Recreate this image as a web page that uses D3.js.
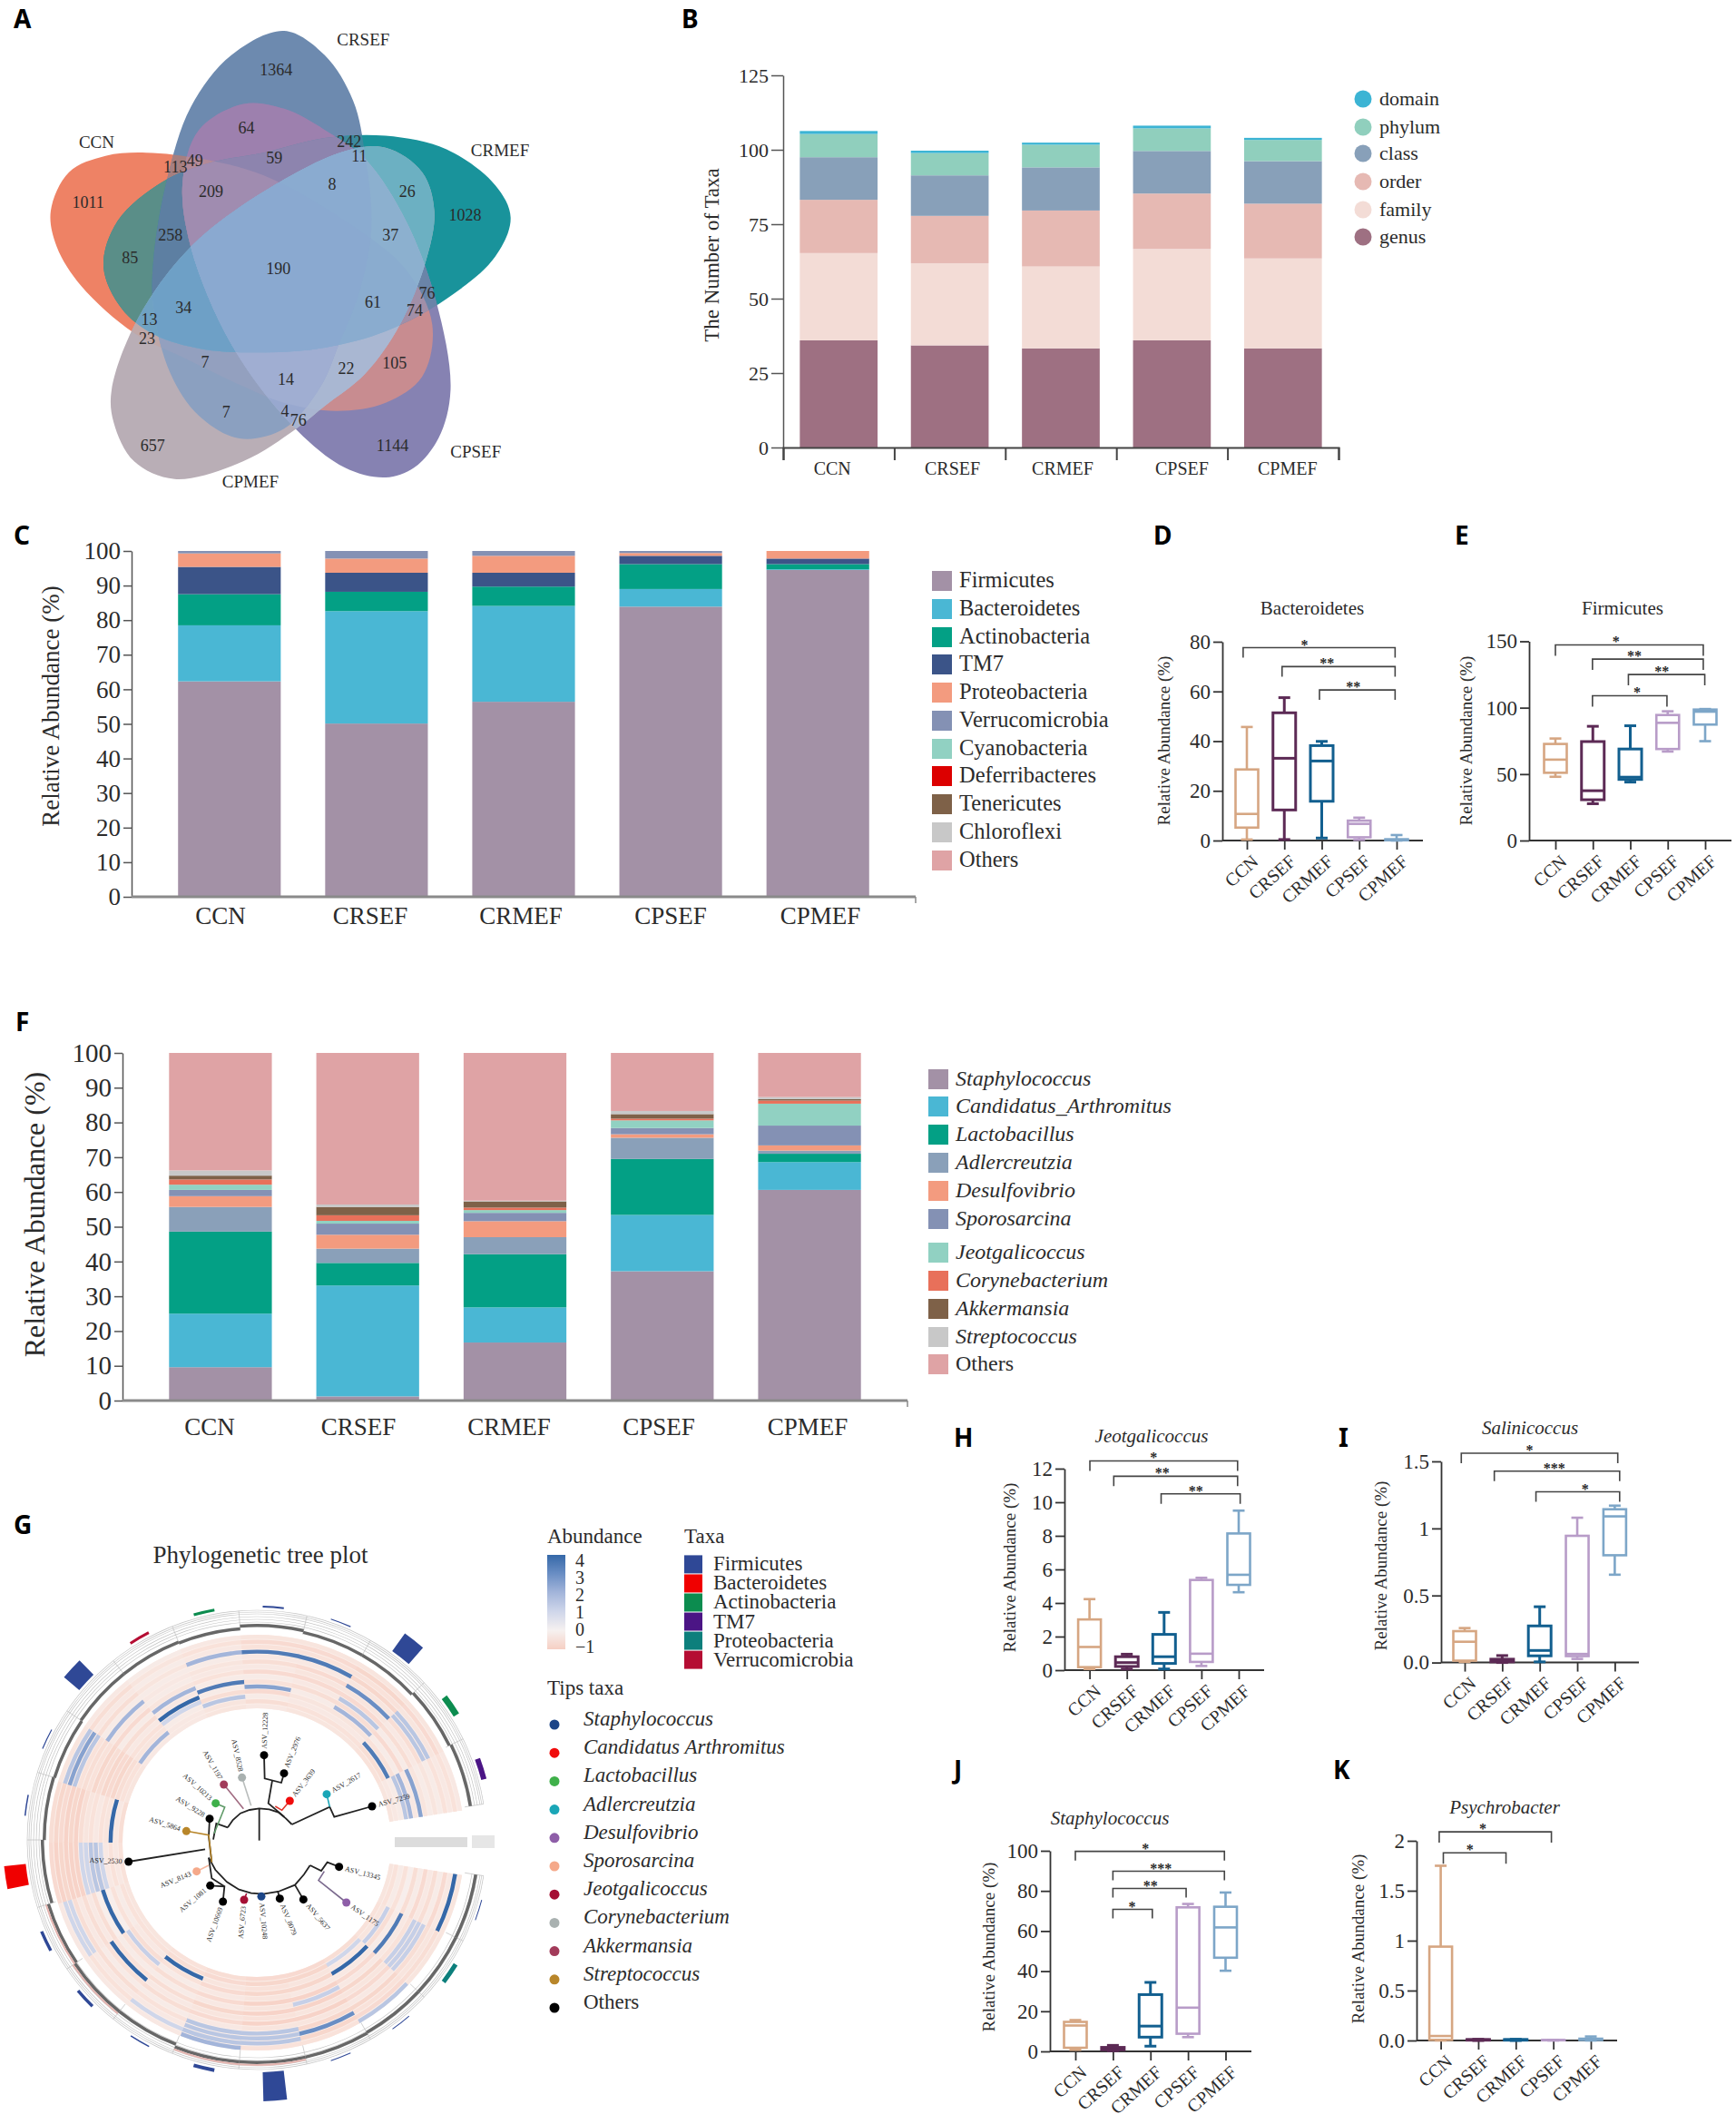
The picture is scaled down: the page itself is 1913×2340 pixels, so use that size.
<!DOCTYPE html>
<html>
<head>
<meta charset="utf-8">
<title>Figure</title>
<script src="https://cdn.jsdelivr.net/npm/d3@7"></script>
<style>
body { margin: 0; background: #fff; }
text { font-family: "Liberation Serif", serif; fill: #2b2b2b; }
.panel { font-family: "Noto Sans", sans-serif; font-weight: 700; font-size: 28px; fill: #000; }
</style>
</head>
<body>
<svg id="fig" width="1913" height="2340" xmlns="http://www.w3.org/2000/svg"></svg>
<script>
const groups = ["CCN", "CRSEF", "CRMEF", "CPSEF", "CPMEF"];

// A: venn
const vennNames = ["CCN", "CRSEF", "CRMEF", "CPSEF", "CPMEF"];
const vennKeys = ["N", "S", "M", "P", "Q"];
const vennOutlines = {
    N: [[125,650],[170,530],[260,480],[360,470],[500,490],[650,540],[850,680],[1000,830],[1065,1000],[1040,1160],[950,1240],[830,1265],[700,1240],[600,1190],[450,1100],[330,1025],[200,880],[140,760]],
    S: [[700,95],[800,170],[870,310],[900,480],[915,700],[885,900],[835,1060],[790,1190],[700,1320],[590,1350],[490,1280],[420,1150],[378,950],[378,800],[410,560],[470,330],[570,170]],
    M: [[255,820],[290,680],[400,560],[520,500],[650,470],[800,425],[950,418],[1100,460],[1220,570],[1258,670],[1220,790],[1100,920],[950,1020],[800,1070],[650,1085],[500,1075],[380,1030],[300,950]],
    P: [[950,1470],[850,1440],[720,1310],[570,1060],[470,760],[450,560],[490,400],[600,320],[700,335],[800,400],[900,490],[1000,680],[1075,930],[1110,1200],[1080,1350],[1020,1440]],
    Q: [[430,1475],[330,1420],[280,1300],[275,1200],[340,980],[470,760],[650,590],[850,465],[950,455],[1040,530],[1070,650],[1050,800],[985,1000],[900,1150],[800,1250],[730,1320],[600,1420]]
};
const vennColors = {
    N: "#ee8265", S: "#6d8aaf", M: "#19939b", P: "#8682b2", Q: "#b9aeb6",
    NS: "#a67f80", NM: "#5a8e88", NP: "#c88c90", NQ: "#c0a8a8", SM: "#3c8a9e",
    SP: "#9d80ae", SQ: "#8ba0c0", MP: "#6a84a8", MQ: "#6cb0c2", PQ: "#a9b5d0",
    NSM: "#5d7fa2", NSP: "#b38a98", NSQ: "#93a0bf", NMP: "#a18fa8", NMQ: "#6fa2c3",
    NPQ: "#a9b7d2", SMP: "#8d84ae", SMQ: "#7eaac8", SPQ: "#98a8cf", MPQ: "#8cb0cf",
    NSMP: "#a08cb0", NSMQ: "#6ea0c6", NSPQ: "#a0aed2", NMPQ: "#8aaccf", SMPQ: "#8aabd0",
    NSMPQ: "#8aa9d0"
};
const vennCounts = [
    [1011,217,622],[1364,680,216],[1028,1146,662],[1144,967,1373],[657,376,1373],
    [64,607,395],[242,860,435],[11,885,480],[49,480,495],[113,432,515],[59,676,487],
    [209,520,590],[8,818,566],[26,1003,590],[258,420,725],[37,962,725],[85,320,793],
    [190,686,828],[34,452,947],[61,919,930],[76,1052,902],[74,1022,957],[13,368,985],
    [23,362,1043],[7,505,1115],[105,972,1118],[22,853,1135],[14,704,1168],[7,557,1270],
    [4,702,1265],[76,735,1295]
];
const vennNamePos = [[238,440],[895,122],[1232,465],[1172,1393],[617,1485]];

// B: taxa counts
const taxaLevels = ["domain", "phylum", "class", "order", "family", "genus"];
const taxaColors = ["#3cb4d4", "#90cfbd", "#88a0b9", "#e6b9b3", "#f3dcd6", "#9e7082"];
const genusCount = [36, 34.3, 33.3, 36, 33.3];
const familyCount = [29.3, 27.6, 27.5, 30.7, 30.2];
const orderCount = [17.9, 15.9, 18.8, 18.6, 18.4];
const classCount = [14.3, 13.6, 14.5, 14.3, 14.3];
const phylumCount = [7.8, 7.5, 7.6, 7.6, 7.1];
const domainCount = [1, 0.8, 0.7, 0.9, 0.7];

// C: phylum composition
const phylumNames = ["Firmicutes", "Bacteroidetes", "Actinobacteria", "TM7", "Proteobacteria", "Verrucomicrobia", "Cyanobacteria", "Deferribacteres", "Tenericutes", "Chloroflexi", "Others"];
const phylumColors = ["#a391a6", "#4ab7d4", "#03a085", "#3b5488", "#f39b7f", "#8491b4", "#91d1c2", "#dc0000", "#7e6148", "#c8c8c8", "#dfa3a5"];
const phylumValues = [
    [62.3, 50.1, 56.4, 83.9, 94.5],
    [16.2, 32.5, 27.7, 5.1, 0.2],
    [9, 5.6, 5.6, 7.2, 1.5],
    [7.9, 5.5, 4, 2.4, 1.6],
    [3.9, 4.1, 4.9, 0.8, 2.2],
    [0.7, 2.2, 1.4, 0.6, 0],
    [0, 0, 0, 0, 0],
    [0, 0, 0, 0, 0],
    [0, 0, 0, 0, 0],
    [0, 0, 0, 0, 0],
    [0, 0, 0, 0, 0]
];

// F: genus composition
const genusNames = ["Staphylococcus", "Candidatus_Arthromitus", "Lactobacillus", "Adlercreutzia", "Desulfovibrio", "Sporosarcina", "Jeotgalicoccus", "Corynebacterium", "Akkermansia", "Streptococcus", "Others"];
const genusColors = ["#a391a6", "#4ab7d4", "#03a085", "#8aa0b9", "#f39b7f", "#8491b4", "#91d1c2", "#e8705a", "#7e6148", "#c8c8c8", "#dfa3a5"];
const genusValues = [
    [9.6, 1.2, 16.7, 37.2, 60.6],
    [15.4, 31.9, 10.1, 16.2, 8],
    [23.6, 6.5, 15.3, 16.1, 2.4],
    [7.1, 4.1, 4.9, 6.1, 0.9],
    [3.1, 4, 4.6, 1, 1.5],
    [1.8, 3.2, 2.4, 1.8, 5.7],
    [1.5, 0.8, 0.8, 2.2, 6.3],
    [1.5, 1.6, 0.7, 0.5, 0.9],
    [1.1, 2.4, 1.8, 1.3, 0.4],
    [1.5, 0.7, 0.2, 0.9, 0.6],
    [33.8, 43.6, 42.5, 16.7, 12.7]
];

// box plots: [min, q1, median, q3, max]
const boxColors = ["#d6a682", "#5c2a55", "#125f8f", "#b89cc8", "#7da6c8"];
const bacteroidetesBox = [[0.4,5.2,10.7,28.6,45.7],[0.4,12.3,33.1,51.4,57.5],[1,15.8,32,38.2,39.9],[0.3,1.3,6.7,8,9.2],[0,0.1,0.3,0.5,2.2]];
const firmicutesBox = [[48,51,60.9,72.7,76.8],[27.7,30.7,37.5,74.5,86],[44,46,47.7,68.9,86.4],[67,68.9,88.6,94.5,97.3],[74.8,87.3,97,98.6,99]];
const jeotBox = [[0.07,0.18,1.38,3.02,4.23],[0.07,0.22,0.45,0.8,0.95],[0.07,0.4,0.8,2.13,3.44],[0.25,0.49,0.98,5.37,5.5],[4.64,5.08,5.68,8.14,9.5]];
const saliniBox = [[0.005,0.014,0.155,0.234,0.257],[0,0.005,0.014,0.025,0.052],[0.005,0.05,0.09,0.273,0.416],[0.027,0.048,0.064,0.945,1.08],[0.655,0.8,1.09,1.143,1.17]];
const staphBox = [[0.8,1.8,12.9,14.7,15.6],[0.3,0.8,1,2,3],[2.6,7.1,12.6,28.3,34.4],[7.1,8.8,21.8,71.8,73.5],[40.2,46.7,61.8,72.1,79.2]];
const psychroBox = [[0,0.006,0.045,0.94,1.75],[0,0.003,0.006,0.01,0.012],[0,0.003,0.006,0.01,0.012],[0,0.002,0.004,0.005,0.006],[0,0.005,0.012,0.018,0.04]];

// brackets: [from, to, value, star position, label] on the group index
const bacteroidetesBrackets = [[-0.1,3.96,77.6,1.54,"*"],[0.94,3.96,70,2.14,"**"],[1.94,3.96,60.6,2.84,"**"]];
const firmicutesBrackets = [[0,3.95,147.3,1.62,"*"],[0.99,3.95,136.6,2.11,"**"],[1.95,3.99,125,2.84,"**"],[0.99,2.98,109,2.18,"*"]];
const jeotBrackets = [[0.01,3.97,12.46,1.72,"*"],[0.65,3.97,11.55,1.95,"**"],[1.92,4.04,10.5,2.85,"**"]];
const saliniBrackets = [[-0.09,4.08,1.561,1.73,"*"],[0.79,4.13,1.427,2.39,"***"],[1.9,4.13,1.273,3.21,"*"]];
const staphBrackets = [[0,3.97,99.7,1.87,"*"],[1,3.97,89.8,2.28,"***"],[1,2.95,81.2,2,"**"],[1,2.05,70.8,1.51,"*"]];
const psychroBrackets = [[-0.04,2.95,2.09,1.12,"*"],[0.07,1.74,1.88,0.78,"*"]];

// G: circular heatmap, one row per ring, one column per tip
const heatRows = [
    [-.4,-.5,-.6,-.7,-.7,-.6,-.5,-.4,-.4,-.5,-.6,-.4,-.3,-.3,-.4,-.3,-.4,-.4,-.5,-.4],
    [-.5,-.4,1,-.8,-.8,-.7,-.6,-.5,-.5,-.3,-.3,-.5,2,-.3,-.4,-.6,-.5,-.5,-.6,-.3],
    [-.2,1.2,-.3,-.4,-.5,-.4,4,-.3,-.2,-.5,4,-.6,-.4,-.2,1.5,-.2,-.3,-.3,3.5,-.2],
    [-.5,-.6,4,-.8,-.8,-.7,-.5,-.6,-.5,-.3,-.4,-.8,-.5,1,-.6,-.7,-.4,-.4,-.5,1.5],
    [-.1,-.2,-.3,-.3,-.4,-.3,-.2,1.2,-.1,1,-.5,-.7,-.3,4,-.2,2.5,-.2,2,-.2,2],
    [-.6,3.5,-.7,-.9,-.9,-.7,-.6,-.5,4,1.5,-.3,-.8,-.6,-.3,3.5,-.5,-.6,-.6,-.7,-.3],
    [-.2,-.3,-.3,1.2,-.4,-.3,-.2,-.2,-.1,1.5,-.5,-.6,-.2,2,-.2,-.2,-.3,1.5,-.2,2.5],
    [-.7,-.5,-.8,-.9,-.9,-.8,-.6,-.5,-.6,1,-.4,-.8,-.7,-.4,-.5,-.7,-.7,-.7,-.6,-.4],
    [-.3,1.2,-.4,-.4,-.5,-.4,-.3,4,-.3,1,-.6,-.5,-.3,-.2,-.3,-.3,-.4,-.4,-.3,-.2],
    [-.6,1.2,-.7,-.9,-.9,-.7,-.6,-.5,-.6,-.9,-.9,-.6,2,-.3,-.4,-.6,-.7,3,-.6,-.4],
    [-.2,1.2,-.3,-.4,-.4,-.3,-.2,-.2,-.3,-.9,-.8,-.5,-.2,-.2,-.2,-.3,-.3,-.4,1.5,-.2],
    [-.7,-.6,-.8,-.8,1.5,1.5,-.5,-.6,-.6,-.9,-.9,1.5,-.6,-.4,2,3.5,3.5,-.8,1.5,-.5],
    [-.3,-.4,-.5,3,1.5,1.5,-.3,-.3,1,-.8,-.7,2.5,-.3,-.2,-.3,-.5,-.5,-.5,-.4,-.3],
    [4,-.6,-.7,-.8,1.5,1.5,1,-.5,1,-.9,-.8,1.5,-.6,-.4,-.5,-.7,-.7,-.8,-.7,-.5],
    [-.4,-.4,1.5,-.5,-.5,2,-.3,-.3,-.3,-.7,-.6,-.4,-.3,-.2,-.3,-.4,-.4,-.4,-.4,-.3]
];
const heatTicks = [4, 3, 2, 1, 0, -1];
const taxaNames = ["Firmicutes", "Bacteroidetes", "Actinobacteria", "TM7", "Proteobacteria", "Verrucomicrobia"];
const taxaFill = ["#2f4896", "#f00000", "#0c8c4f", "#4b1585", "#0d7f7c", "#b50d33"];
const sectorTaxa = [0, 4, 0, 0, 0, 0, 0, 0, 0, 1, 0, 0, 0, 5, 2, 0, 0, 0, 2, 3];
const sectorBar = [1, 5, 1, 1, 32, 4, 1.5, 3.5, 3.5, 24, 1.5, 1.2, 22, 3, 3, 2, 1.2, 24, 7, 6];
// radial level of the dark track, and where it carries the pink edge
const sectorTrack = [246, 246, 246, 247, 247, 247, 244, 244, 242, 238, 236, 235, 236, 236, 235, 238, 236, 236, 238, 240];
const sectorPink = [0, 0, 0, 0, 1, 1, 0, 1, 1, 0, 0, 0, 0, 0, 0, 0, 0, 0, 0, 0];
const tipLegend = ["Staphylococcus", "Candidatus Arthromitus", "Lactobacillus", "Adlercreutzia", "Desulfovibrio", "Sporosarcina", "Jeotgalicoccus", "Corynebacterium", "Akkermansia", "Streptococcus", "Others"];
const tipColors = ["#1c4587", "#f00c0c", "#3fb04a", "#1aa6b7", "#8e5ea8", "#f5a98a", "#a50f34", "#a9b1b0", "#a23b5a", "#b8862a", "#000000"];
// [label, tip x, tip y, legend index, label angle, label side]
const treeTips = [
    ["ASV_12228",423,221,10,-88,1],["ASV_2976",489,281,10,-68,1],["ASV_3639",508,372,1,-52,1],
    ["ASV_2617",630,350,3,-30,1],["ASV_7259",780,390,10,-15,1],["ASV_13345",671,590,10,15,1],
    ["ASV_1175",695,708,4,35,1],["ASV_5637",553,698,10,50,1],["ASV_8079",475,695,10,68,1],
    ["ASV_10248",414,688,0,85,1],["ASV_6723",357,699,6,-85,-1],["ASV_10669",287,705,10,-70,-1],
    ["ASV_1081",245,652,10,-40,-1],["ASV_8143",200,605,5,-22,-1],["ASV_2530",-25,573,10,2,-1],
    ["ASV_5864",166,472,9,18,-1],["ASV_9228",243,431,10,32,-1],["ASV_10213",263,380,2,42,-1],
    ["ASV_1197",290,318,8,60,-1],["ASV_8528",350,295,7,78,-1]
];
const treeBranches = [
    [[407,397],[407,503]],
    [[303,460],[320,435],[345,413],[375,402],[407,397],[440,400],[470,410],[495,430],[515,450]],
    [[240,560],[262,600],[300,640],[340,665],[380,677],[420,680],[470,672],[525,650],[555,615],[575,585]],
    [[423,221],[425,298],[480,312],[489,281]],
    [[450,305],[437,380],[490,425]],
    [[515,450],[640,392],[655,425],[780,390]],
    [[575,585],[612,603],[632,575],[671,590]],
    [[525,650],[553,698]],
    [[468,670],[475,695]],
    [[414,678],[414,688]],
    [[287,705],[292,655],[245,652]],
    [[292,655],[250,628],[240,560]],
    [[-25,573],[228,532]],
    [[243,431],[240,490],[250,575]],
    [[303,460],[265,447],[255,500]]
];
const treeTwigs = [
    ["#e0362c",[[508,372],[482,403],[460,390]]],
    ["#1aa6b7",[[640,392],[630,350]]],
    ["#7b6a8e",[[622,605],[603,635],[695,708]]],
    ["#a50f34",[[365,678],[357,699]]],
    ["#f5b9a0",[[200,605],[240,585]]],
    ["#b8862a",[[166,472],[240,485],[250,575]]],
    ["#5f9a68",[[263,380],[293,393],[258,480]]],
    ["#a06a80",[[290,318],[355,398]]],
    ["#b9bdbc",[[350,295],[380,388]]]
];

const svg = d3.select("#fig");
const defs = svg.append("defs");

function panelLetter(t, x, y) {
    svg.append("text").attr("class", "panel").attr("x", x).attr("y", y).text(t);
}
function yTitle(t, x, yc, size) {
    svg.append("text").attr("transform", `translate(${x},${yc}) rotate(-90)`)
        .attr("text-anchor", "middle").attr("font-size", size).text(t);
}
function styleAxis(g, color, width) {
    g.selectAll("path.domain").attr("stroke", color).attr("stroke-width", width);
    g.selectAll(".tick line").attr("stroke", color).attr("stroke-width", width);
    g.selectAll("text").style("font-family", '"Liberation Serif", serif').attr("fill", "#2b2b2b");
}

/* ---------- A ---------- */
const vx = d3.scaleLinear().domain([0, 1565]).range([0, 700]);
const vy = d3.scaleLinear().domain([0, 1565]).range([0, 560]);
const vennLine = d3.line().x(d => vx(d[0])).y(d => vy(d[1])).curve(d3.curveCatmullRomClosed);

vennKeys.forEach(k => {
    defs.append("clipPath").attr("id", "clip" + k).append("path").attr("d", vennLine(vennOutlines[k]));
});
Object.keys(vennColors).sort((a, b) => a.length - b.length).forEach(key => {
    let parent = svg;
    const letters = key.split("");
    letters.slice(0, -1).forEach(k => {
        parent = parent.append("g").attr("clip-path", `url(#clip${k})`);
    });
    parent.append("path").attr("d", vennLine(vennOutlines[letters[letters.length - 1]])).attr("fill", vennColors[key]);
});
svg.selectAll(".vcount").data(vennCounts).enter().append("text")
    .attr("x", d => vx(d[1])).attr("y", d => vy(d[2]) + 6)
    .attr("text-anchor", "middle").attr("font-size", 18).attr("fill", "#333").text(d => d[0]);
svg.selectAll(".vname").data(vennNames).enter().append("text")
    .attr("x", (d, i) => vx(vennNamePos[i][0])).attr("y", (d, i) => vy(vennNamePos[i][1]) + 6)
    .attr("text-anchor", "middle").attr("font-size", 19).text(d => d);

/* ---------- B ---------- */
const bx = d3.scaleBand().domain(groups).range([863, 1475]).paddingInner(0.3).paddingOuter(0.15);
const by = d3.scaleLinear().domain([0, 125]).range([493, 83]);
const taxaTable = groups.map((g, i) => ({
    group: g, genus: genusCount[i], family: familyCount[i], order: orderCount[i],
    class: classCount[i], phylum: phylumCount[i], domain: domainCount[i]
}));
const taxaStack = d3.stack().keys(taxaLevels.slice().reverse())(taxaTable);
svg.append("g").selectAll("g").data(taxaStack).enter().append("g")
    .attr("fill", d => taxaColors[taxaLevels.indexOf(d.key)])
    .selectAll("rect").data(d => d).enter().append("rect")
    .attr("x", d => bx(d.data.group)).attr("width", bx.bandwidth())
    .attr("y", d => by(d[1])).attr("height", d => by(d[0]) - by(d[1]));
const bAxisY = svg.append("g").attr("transform", "translate(863,0)")
    .call(d3.axisLeft(by).tickValues([0, 25, 50, 75, 100, 125]).tickSize(13).tickSizeOuter(0));
bAxisY.selectAll("text").attr("font-size", 22);
styleAxis(bAxisY, "#555", 1.5);
const bEdges = d3.scaleLinear().domain([0, 5]).range([863, 1475]);
const bAxisX = svg.append("g").attr("transform", "translate(0,493)")
    .call(d3.axisBottom(bEdges).ticks(5).tickSize(14).tickSizeOuter(14).tickFormat(""));
styleAxis(bAxisX, "#444", 2);
const bNudge = [-7, 3, 2, 11, 5];
svg.selectAll(".blab").data(groups).enter().append("text")
    .attr("x", (d, i) => bx(d) + bx.bandwidth() / 2 + bNudge[i]).attr("y", 523)
    .attr("text-anchor", "middle").attr("font-size", 20).text(d => d);
yTitle("The Number of Taxa", 792, 281, 23);
svg.selectAll(".bleg").data(taxaLevels).enter().append("circle")
    .attr("cx", 1502).attr("cy", (d, i) => [109, 140, 169, 200, 231, 261][i]).attr("r", 9.5)
    .attr("fill", (d, i) => taxaColors[i]);
svg.selectAll(".blegt").data(taxaLevels).enter().append("text")
    .attr("x", 1520).attr("y", (d, i) => [109, 140, 169, 200, 231, 261][i] + 7)
    .attr("font-size", 22).text(d => d);

/* ---------- C and F stacked bars ---------- */
function stackedPanel(o) {
    const x = d3.scaleBand().domain(groups).range(o.xr).paddingInner(0.302).paddingOuter(0.316);
    const y = d3.scaleLinear().domain([0, 100]).range(o.yr);
    const table = groups.map((g, i) => {
        const row = { group: g };
        o.names.forEach((n, j) => { row[n] = o.values[j][i]; });
        return row;
    });
    const layers = d3.stack().keys(o.names)(table);
    svg.append("g").selectAll("g").data(layers).enter().append("g")
        .attr("fill", (d, i) => o.colors[i])
        .selectAll("rect").data(d => d).enter().append("rect")
        .attr("x", d => x(d.data.group)).attr("width", x.bandwidth())
        .attr("y", d => y(d[1])).attr("height", d => y(d[0]) - y(d[1]));
    const ax = svg.append("g").attr("transform", `translate(${o.xr[0]},0)`)
        .call(d3.axisLeft(y).tickValues(d3.range(0, 101, 10)).tickSize(9).tickSizeOuter(0));
    ax.selectAll("text").attr("font-size", o.tickSize);
    styleAxis(ax, "#555", 1.5);
    svg.append("line").attr("x1", o.xr[0]).attr("x2", o.xr[1]).attr("y1", o.yr[0]).attr("y2", o.yr[0])
        .attr("stroke", "#8a8a8a").attr("stroke-width", 3);
    svg.append("line").attr("x1", o.xr[1]).attr("x2", o.xr[1]).attr("y1", o.yr[0]).attr("y2", o.yr[0] + 7)
        .attr("stroke", "#8a8a8a").attr("stroke-width", 1.5);
    svg.selectAll(".cat" + o.id).data(groups).enter().append("text")
        .attr("x", (d, i) => o.labelX[i]).attr("y", o.labelY)
        .attr("text-anchor", "middle").attr("font-size", o.catSize).text(d => d);
    yTitle("Relative Abundance (%)", o.titleX, o.titleY, o.titleSize);
    o.names.forEach((n, i) => {
        svg.append("rect").attr("x", o.legendX).attr("y", o.legendY[i] - 11).attr("width", 22).attr("height", 22).attr("fill", o.colors[i]);
        svg.append("text").attr("x", o.legendX + 30).attr("y", o.legendY[i] + 7)
            .attr("font-size", o.legendSize).attr("font-style", o.italic && n !== "Others" ? "italic" : "normal").text(n);
    });
}
stackedPanel({
    id: "c", names: phylumNames, values: phylumValues, colors: phylumColors,
    xr: [145, 1009], yr: [988, 607], tickSize: 27, catSize: 27,
    labelX: [243, 408, 574, 739, 904], labelY: 1018, titleX: 65, titleY: 778, titleSize: 27,
    legendX: 1027, legendY: [640, 671, 702, 732, 763, 794, 825, 855, 886, 917, 948], legendSize: 24.5
});
stackedPanel({
    id: "f", names: genusNames, values: genusValues, colors: genusColors,
    xr: [135, 1000], yr: [1543, 1160], tickSize: 29, catSize: 27,
    labelX: [231, 395, 561, 726, 890], labelY: 1581, titleX: 49, titleY: 1338, titleSize: 32,
    legendX: 1023, legendY: [1189, 1219, 1250, 1281, 1312, 1343, 1380, 1411, 1442, 1473, 1503], legendSize: 24, italic: true
});

/* ---------- box plots ---------- */
function boxPanel(o) {
    const x = d3.scaleLinear().domain([0, 4]).range(o.xr);
    const y = d3.scaleLinear().domain(o.yd).range(o.yr);
    const ax = svg.append("g").attr("transform", `translate(${o.axisX},0)`)
        .call(d3.axisLeft(y).tickValues(o.ticks).tickSize(10).tickSizeOuter(0).tickFormat(o.fmt || (d => d)));
    ax.selectAll("text").attr("font-size", 23);
    styleAxis(ax, "#333", 1.8);
    const bx2 = svg.append("g").attr("transform", `translate(0,${o.yr[0]})`)
        .call(d3.axisBottom(x).tickValues([0, 1, 2, 3, 4]).tickSize(10).tickFormat((d, i) => groups[i]));
    bx2.selectAll("path.domain").remove();
    bx2.selectAll("text").attr("font-size", 20).attr("text-anchor", "end").attr("y", 0).attr("dy", "0.32em")
        .attr("transform", "translate(9,20) rotate(-42)");
    styleAxis(bx2, "#333", 1.8);
    svg.append("line").attr("x1", o.axisX).attr("x2", o.axisEnd).attr("y1", o.yr[0]).attr("y2", o.yr[0])
        .attr("stroke", "#333").attr("stroke-width", 2);
    const half = 12.5, cap = 6.5;
    o.boxes.forEach((b, i) => {
        const g = svg.append("g").attr("stroke", boxColors[i]).attr("fill", "none")
            .attr("stroke-width", i === 1 || i === 2 ? 3 : 2.6);
        const cx = x(i);
        g.append("line").attr("x1", cx).attr("x2", cx).attr("y1", y(b[4])).attr("y2", y(b[3]));
        g.append("line").attr("x1", cx).attr("x2", cx).attr("y1", y(b[1])).attr("y2", y(b[0]));
        g.append("line").attr("x1", cx - cap).attr("x2", cx + cap).attr("y1", y(b[4])).attr("y2", y(b[4]));
        g.append("line").attr("x1", cx - cap).attr("x2", cx + cap).attr("y1", y(b[0])).attr("y2", y(b[0]));
        g.append("rect").attr("x", cx - half).attr("width", half * 2).attr("y", y(b[3])).attr("height", y(b[1]) - y(b[3]));
        g.append("line").attr("x1", cx - half).attr("x2", cx + half).attr("y1", y(b[2])).attr("y2", y(b[2]));
    });
    o.brackets.forEach(b => {
        const yy = y(b[2]);
        svg.append("path").attr("fill", "none").attr("stroke", "#444").attr("stroke-width", 1.6)
            .attr("d", d3.line()([[x(b[0]), yy + o.stem], [x(b[0]), yy], [x(b[1]), yy], [x(b[1]), yy + o.stem]]));
        svg.append("text").attr("x", x(b[3])).attr("y", yy + 2).attr("text-anchor", "middle")
            .attr("font-size", 16).attr("font-weight", 700).attr("fill", "#444").text(b[4]);
    });
    svg.append("text").attr("x", o.titleX).attr("y", o.titleY).attr("text-anchor", "middle")
        .attr("font-size", o.titleSize).attr("font-style", o.italic ? "italic" : "normal").text(o.title);
    yTitle("Relative Abundance (%)", o.yTitleX, o.yTitleY, 19);
}
const fmtHalf = d => (d === 0 ? "0.0" : String(d));
boxPanel({ title: "Bacteroidetes", boxes: bacteroidetesBox, brackets: bacteroidetesBrackets, xr: [1374, 1539], yd: [0, 80], yr: [926, 707], ticks: [0, 20, 40, 60, 80], axisX: 1347, axisEnd: 1568, stem: 11, titleX: 1446, titleY: 677, titleSize: 21, yTitleX: 1289, yTitleY: 816 });
boxPanel({ title: "Firmicutes", boxes: firmicutesBox, brackets: firmicutesBrackets, xr: [1714, 1879], yd: [0, 150], yr: [926, 706.5], ticks: [0, 50, 100, 150], axisX: 1685, axisEnd: 1908, stem: 12, titleX: 1788, titleY: 677, titleSize: 21, yTitleX: 1622, yTitleY: 816 });
boxPanel({ title: "Jeotgalicoccus", boxes: jeotBox, brackets: jeotBrackets, xr: [1200.6, 1365], yd: [0, 12], yr: [1840, 1618], ticks: [0, 2, 4, 6, 8, 10, 12], axisX: 1173, axisEnd: 1393, stem: 11, titleX: 1269, titleY: 1589, titleSize: 21, italic: true, yTitleX: 1119, yTitleY: 1727 });
boxPanel({ title: "Salinicoccus", boxes: saliniBox, brackets: saliniBrackets, xr: [1614, 1779.4], yd: [0, 1.5], yr: [1831.6, 1610], ticks: [0, 0.5, 1, 1.5], fmt: fmtHalf, axisX: 1588, axisEnd: 1806, stem: 11, titleX: 1686, titleY: 1580, titleSize: 21, italic: true, yTitleX: 1528, yTitleY: 1725 });
boxPanel({ title: "Staphylococcus", boxes: staphBox, brackets: staphBrackets, xr: [1185, 1350.5], yd: [0, 100], yr: [2260, 2039], ticks: [0, 20, 40, 60, 80, 100], axisX: 1157, axisEnd: 1379, stem: 10, titleX: 1223, titleY: 2010, titleSize: 21, italic: true, yTitleX: 1096, yTitleY: 2145 });
boxPanel({ title: "Psychrobacter", boxes: psychroBox, brackets: psychroBrackets, xr: [1587.6, 1753], yd: [0, 2], yr: [2248, 2028], ticks: [0, 0.5, 1, 1.5, 2], fmt: fmtHalf, axisX: 1561, axisEnd: 1782, stem: 12, titleX: 1658, titleY: 1998, titleSize: 21, italic: true, yTitleX: 1503, yTitleY: 2136 });

/* ---------- G ---------- */
svg.append("text").attr("x", 287).attr("y", 1722).attr("text-anchor", "middle").attr("font-size", 27).text("Phylogenetic tree plot");

const heatColor = d3.scaleLinear().domain([-1, -0.5, 0, 1, 2, 3, 4])
    .range(["#f6cfc3", "#f9e2da", "#f6f1f0", "#cfd6ea", "#a3b5da", "#6a8ec4", "#3568a8"]).clamp(true);
const deg = Math.PI / 180;
const sectorScale = d3.scaleBand().domain(d3.range(20)).range([99 * deg, 441 * deg]);
const rowScale = d3.scaleBand().domain(d3.range(heatRows.length)).range([148, 229]).paddingInner(0.18);
const ring = svg.append("g").attr("transform", "translate(283,2030)");
const track = svg.append("g").attr("transform", "translate(283,2027)");
const arc = d3.arc();
ring.append("path").attr("fill", "#fbeee9").attr("d", arc({ innerRadius: 148, outerRadius: 229, startAngle: 99 * deg, endAngle: 441 * deg }));
heatRows.forEach((row, r) => {
    row.forEach((v, s) => {
        ring.append("path").attr("fill", heatColor(v)).attr("d", arc({
            innerRadius: rowScale(r), outerRadius: rowScale(r) + rowScale.bandwidth(),
            startAngle: sectorScale(s), endAngle: sectorScale(s) + sectorScale.bandwidth() + 0.002
        }));
    });
});
// thin grid of the outer track
[240, 243, 246, 249, 251, 253].forEach(r => {
    track.append("path").attr("fill", "#c4c4c4").attr("d", arc({ innerRadius: r - 0.35, outerRadius: r + 0.35, startAngle: 99 * deg, endAngle: 441 * deg }));
});
d3.range(21).forEach(s => {
    const a = 99 * deg + s * sectorScale.step() - Math.PI / 2;
    track.append("line").attr("x1", 232 * Math.cos(a)).attr("y1", 232 * Math.sin(a))
        .attr("x2", 253 * Math.cos(a)).attr("y2", 253 * Math.sin(a)).attr("stroke", "#c4c4c4").attr("stroke-width", 0.8);
});
sectorTrack.forEach((r, s) => {
    const a0 = sectorScale(s), a1 = a0 + sectorScale.bandwidth();
    track.append("path").attr("fill", "#676767").attr("d", arc({ innerRadius: r - 3.5, outerRadius: r, startAngle: a0, endAngle: a1 }));
    if (sectorPink[s]) {
        track.append("path").attr("fill", "#e5b5b0").attr("d", arc({ innerRadius: r, outerRadius: r + 2, startAngle: a0, endAngle: a1 }));
    }
});
// taxa bars outside the track
sectorTaxa.forEach((t, s) => {
    const mid = sectorScale(s) + sectorScale.bandwidth() / 2;
    track.append("path").attr("fill", taxaFill[t]).attr("d", arc({
        innerRadius: 256, outerRadius: 256 + sectorBar[s],
        startAngle: mid - 2.6 * deg, endAngle: mid + 2.6 * deg
    }));
});
// tiny unreadable track labels in the gap
svg.append("rect").attr("x", 435).attr("y", 2024).attr("width", 80).attr("height", 11).attr("fill", "#dcdcdc");
svg.append("rect").attr("x", 520).attr("y", 2022).attr("width", 25).attr("height", 14).attr("fill", "#e6e6e6");

const tx = d3.scaleLinear().domain([0, 900]).range([150, 450]);
const ty = d3.scaleLinear().domain([0, 900]).range([1860, 2160]);
const treeLine = d3.line().x(d => tx(d[0])).y(d => ty(d[1]));
treeBranches.forEach(b => {
    svg.append("path").attr("d", treeLine(b)).attr("fill", "none").attr("stroke", "#222").attr("stroke-width", 1.8);
});
treeTwigs.forEach(b => {
    svg.append("path").attr("d", treeLine(b[1])).attr("fill", "none").attr("stroke", b[0]).attr("stroke-width", 1.6);
});
svg.selectAll(".tip").data(treeTips).enter().append("circle")
    .attr("cx", d => tx(d[1])).attr("cy", d => ty(d[2])).attr("r", 4.5).attr("fill", d => tipColors[d[3]]);
svg.selectAll(".tipt").data(treeTips).enter().append("text")
    .attr("transform", d => `translate(${tx(d[1])},${ty(d[2])}) rotate(${d[4]}) translate(${d[5] * 7},2.5)`)
    .attr("text-anchor", d => (d[5] > 0 ? "start" : "end")).attr("font-size", 8).text(d => d[0]);

// legends
svg.append("text").attr("x", 603).attr("y", 1700).attr("font-size", 23).text("Abundance");
const gradient = defs.append("linearGradient").attr("id", "heatGrad").attr("x1", 0).attr("x2", 0).attr("y1", 0).attr("y2", 1);
heatTicks.forEach((t, i) => {
    gradient.append("stop").attr("offset", i / (heatTicks.length - 1)).attr("stop-color", heatColor(t));
});
svg.append("rect").attr("x", 603).attr("y", 1713).attr("width", 20).attr("height", 104).attr("fill", "url(#heatGrad)");
const heatLegendY = d3.scaleLinear().domain([4, -1]).range([1719, 1814]);
svg.selectAll(".hlab").data(heatTicks).enter().append("text")
    .attr("x", 634).attr("y", d => heatLegendY(d) + 7).attr("font-size", 20)
    .text(d => (d < 0 ? "\u2212" + Math.abs(d) : d));
svg.append("text").attr("x", 754).attr("y", 1700).attr("font-size", 23).text("Taxa");
const taxaLegendY = d3.scaleLinear().domain([0, 5]).range([1723.4, 1828.6]);
taxaNames.forEach((n, i) => {
    svg.append("rect").attr("x", 754).attr("y", taxaLegendY(i) - 10).attr("width", 20).attr("height", 20).attr("fill", taxaFill[i]);
    svg.append("text").attr("x", 786).attr("y", taxaLegendY(i) + 7).attr("font-size", 23).text(n);
});
svg.append("text").attr("x", 603).attr("y", 1867).attr("font-size", 23).text("Tips taxa");
const tipLegendY = d3.scaleLinear().domain([0, 10]).range([1900, 2212]);
tipLegend.forEach((n, i) => {
    svg.append("circle").attr("cx", 611).attr("cy", tipLegendY(i)).attr("r", 5.5).attr("fill", tipColors[i]);
    svg.append("text").attr("x", 643).attr("y", tipLegendY(i) + 1).attr("font-size", 23)
        .attr("font-style", n === "Others" ? "normal" : "italic").text(n);
});

/* ---------- panel letters ---------- */
panelLetter("A", 15, 31);
panelLetter("B", 751, 31);
panelLetter("C", 15, 600);
panelLetter("D", 1271, 600);
panelLetter("E", 1603, 600);
panelLetter("F", 17, 1136);
panelLetter("G", 15, 1690);
panelLetter("H", 1051, 1594);
panelLetter("I", 1475, 1594);
panelLetter("J", 1051, 1960);
panelLetter("K", 1469, 1960);
</script>
</body>
</html>
